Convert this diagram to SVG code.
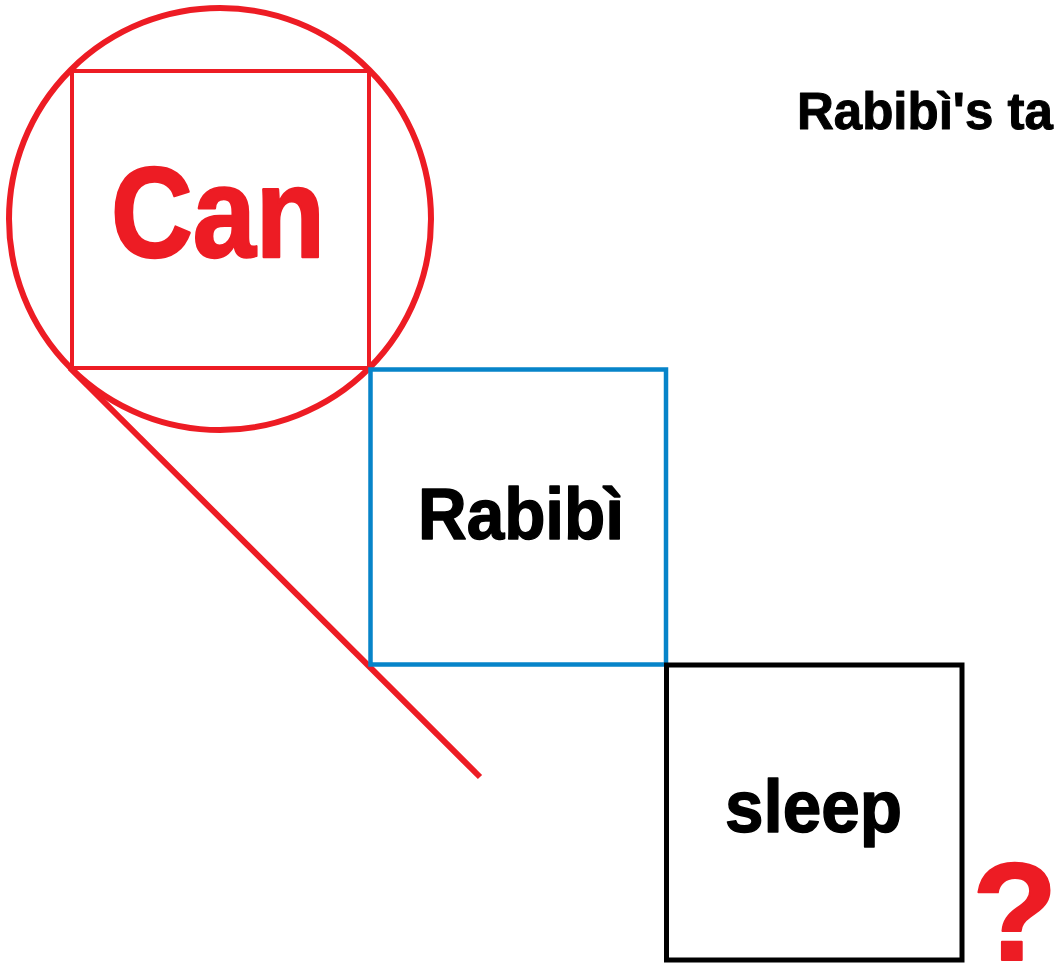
<svg xmlns="http://www.w3.org/2000/svg" width="1057" height="966" viewBox="0 0 1057 966">
<style>
.t{font-family:"Liberation Sans",Arial,sans-serif;font-weight:bold;stroke-linejoin:round}
.red{fill:none;stroke:#ed1c24}
</style>
<rect width="1057" height="966" fill="#fff"/>
<g id="connectors">
<line x1="70" y1="368" x2="480" y2="777" stroke="#ed1c24" stroke-width="6"/>
</g>
<g id="zoom-circle">
<circle cx="220" cy="219" r="211" class="red" stroke-width="6"/>
</g>
<g id="node-can">
<rect x="72" y="71" width="297" height="297" class="red" stroke-width="4"/>
<text class="t" x="218" y="257" font-size="128" fill="#ed1c24" stroke="#ed1c24" stroke-width="2.5" text-anchor="middle" textLength="214" lengthAdjust="spacingAndGlyphs">Can</text>
</g>
<g id="node-rabibi">
<rect x="370.5" y="369.5" width="295.5" height="295" fill="none" stroke="#0784c9" stroke-width="4.5"/>
<text class="t" x="521" y="539" font-size="72" fill="#000" stroke="#000" stroke-width="1.5" text-anchor="middle" textLength="206" lengthAdjust="spacingAndGlyphs">Rabibì</text>
</g>
<g id="node-sleep">
<rect x="666.5" y="665" width="295.5" height="295" fill="none" stroke="#000" stroke-width="5"/>
<text class="t" x="813.5" y="832" font-size="74" fill="#000" stroke="#000" stroke-width="1.5" text-anchor="middle" textLength="177" lengthAdjust="spacingAndGlyphs">sleep</text>
</g>
<g id="title">
<text class="t" x="797" y="129" font-size="51" fill="#000" stroke="#000" stroke-width="1">Rabibì's ta</text>
</g>
<g id="question">
<text class="t" x="972" y="960" font-size="140" fill="#ed1c24" stroke="#ed1c24" stroke-width="2">?</text>
</g>
</svg>
